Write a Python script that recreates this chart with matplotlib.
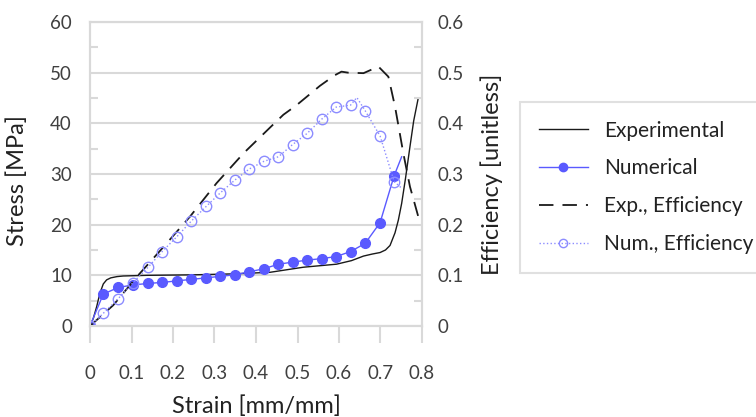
import matplotlib
matplotlib.use("Agg")
import matplotlib.pyplot as plt
from matplotlib.lines import Line2D
import numpy as np

plt.rcParams['font.family'] = ['Lato', 'DejaVu Sans']

# Experimental stress-strain
exp_strain = [0.0, 0.008, 0.016, 0.024, 0.032, 0.04, 0.05, 0.065, 0.08, 0.137, 0.25, 0.35, 0.434, 0.514, 0.594, 0.63, 0.659, 0.68, 0.699, 0.712, 0.723, 0.735, 0.743, 0.751, 0.76, 0.771, 0.78, 0.791]
exp_stress = [0.0, 1.5, 3.8, 6.5, 8.3, 9.1, 9.5, 9.75, 9.87, 10.0, 10.1, 10.3, 10.6, 11.6, 12.2, 12.9, 13.8, 14.2, 14.5, 15.0, 15.9, 18.4, 20.9, 24.2, 29.0, 35.4, 40.5, 45.0]

# Numerical stress-strain
num_strain = [0.0, 0.032, 0.068, 0.103, 0.14, 0.174, 0.209, 0.244, 0.28, 0.313, 0.349, 0.384, 0.419, 0.454, 0.488, 0.523, 0.558, 0.593, 0.628, 0.663, 0.699, 0.733, 0.751]
num_stress = [0.0, 6.3, 7.6, 8.1, 8.4, 8.6, 8.9, 9.2, 9.5, 9.8, 10.1, 10.7, 11.3, 12.2, 12.6, 13.0, 13.3, 13.7, 14.7, 16.3, 20.4, 29.7, 33.4]

# Experimental efficiency
expeff_strain = [0.0, 0.056, 0.116, 0.177, 0.241, 0.305, 0.37, 0.438, 0.466, 0.498, 0.554, 0.59, 0.606, 0.622, 0.659, 0.695, 0.719, 0.735, 0.755, 0.771, 0.791]
expeff_value = [0.0, 0.041, 0.1, 0.156, 0.216, 0.282, 0.341, 0.395, 0.417, 0.436, 0.474, 0.495, 0.502, 0.5, 0.499, 0.512, 0.492, 0.433, 0.341, 0.275, 0.216]

# Numerical efficiency
numeff_strain = [0.0, 0.032, 0.068, 0.103, 0.14, 0.174, 0.209, 0.244, 0.28, 0.313, 0.349, 0.384, 0.419, 0.454, 0.488, 0.523, 0.558, 0.593, 0.628, 0.643, 0.663, 0.699, 0.733, 0.751]
numeff_value = [0.0, 0.025, 0.054, 0.085, 0.116, 0.147, 0.176, 0.207, 0.236, 0.262, 0.288, 0.310, 0.325, 0.334, 0.358, 0.380, 0.408, 0.432, 0.436, 0.451, 0.425, 0.375, 0.285, 0.272]
numeff_marked = [0, 1, 2, 3, 4, 5, 6, 7, 8, 9, 10, 11, 12, 13, 14, 15, 16, 17, 18, 20, 21, 22]

x_ticks = [0, 0.1, 0.2, 0.3, 0.4, 0.5, 0.6, 0.7, 0.8]
x_tick_labels = ['0', '0.1', '0.2', '0.3', '0.4', '0.5', '0.6', '0.7', '0.8']
left_ticks = [0, 10, 20, 30, 40, 50, 60]
right_ticks = [0, 0.1, 0.2, 0.3, 0.4, 0.5, 0.6]
right_tick_labels = ['0', '0.1', '0.2', '0.3', '0.4', '0.5', '0.6']

BLUE = '#5a5aff'
LBLUE = '#8c8cff'
GRID = '#d9d9d9'
TXT = '#404040'
TICKFS = 13.5
LABFS = 17

fig = plt.figure(figsize=(7.56, 4.17), dpi=100)
ax = fig.add_axes([90/756, 1-326/417, 332/756, 304/417])
ax2 = ax.twinx()

ax.set_xlim(0, 0.8)
ax.set_ylim(0, 60)
ax2.set_ylim(0, 0.6)

for s in ['top', 'left', 'right', 'bottom']:
    ax.spines[s].set_color(GRID)
    ax.spines[s].set_linewidth(1.5)
    ax2.spines[s].set_color(GRID)
    ax2.spines[s].set_linewidth(1.5)

ax.set_yticks(left_ticks)
ax.set_yticklabels([str(v) for v in left_ticks])
ax.set_yticks([5, 15, 25, 35, 45, 55], minor=True)
ax.grid(axis='y', which='major', color=GRID, linewidth=1.5)
ax.set_axisbelow(True)
ax.tick_params(axis='y', which='major', length=0, pad=13, labelsize=TICKFS, labelcolor=TXT)
ax.tick_params(axis='y', which='minor', direction='in', length=6, color=GRID, width=1.5)
ax.set_xticks(x_ticks)
ax.set_xticklabels(x_tick_labels)
ax.tick_params(axis='x', which='major', direction='out', length=12, color=GRID, width=1.5,
               pad=16, labelsize=TICKFS, labelcolor=TXT)

ax2.set_yticks(right_ticks)
ax2.set_yticklabels(right_tick_labels)
ax2.set_yticks([0.05, 0.15, 0.25, 0.35, 0.45, 0.55], minor=True)
ax2.tick_params(axis='y', which='major', length=0, pad=11, labelsize=TICKFS, labelcolor=TXT)
ax2.tick_params(axis='y', which='minor', direction='in', length=6, color=GRID, width=1.5)

ax.plot(exp_strain, exp_stress, color='#1a1a1a', linewidth=1.0, zorder=3)
ax.plot(num_strain, num_stress, color=BLUE, linewidth=1.0, marker='o', markersize=7,
        markevery=list(range(len(num_strain) - 1)), zorder=4)
ax2.plot(expeff_strain, expeff_value, color='#1a1a1a', linewidth=1.3, dashes=(8, 5))
ax2.plot(numeff_strain, numeff_value, color=LBLUE, linewidth=1.0, linestyle=':',
         marker='o', markersize=7.5, markerfacecolor='none', markeredgecolor=LBLUE,
         markevery=numeff_marked)

ax.set_xlabel('Strain [mm/mm]', fontsize=LABFS, color='#222222', labelpad=10)
ax.set_ylabel('Stress [MPa]', fontsize=LABFS, color='#222222', labelpad=6)
ax.yaxis.set_label_coords(-0.188, 0.48)
ax2.set_ylabel('Efficiency [unitless]', fontsize=LABFS, color='#222222', labelpad=12)

handles = [
    Line2D([], [], color='#1a1a1a', linewidth=1.0),
    Line2D([], [], color=BLUE, linewidth=1.0, marker='o', markersize=6),
    Line2D([], [], color='#1a1a1a', linewidth=1.3, dashes=(8, 5)),
    Line2D([], [], color=LBLUE, linewidth=1.0, linestyle=':', marker='o', markersize=6,
           markerfacecolor='none', markeredgecolor=LBLUE),
]
labels = ['Experimental', 'Numerical', 'Exp., Efficiency', 'Num., Efficiency']
leg = fig.legend(handles, labels, loc='upper left', bbox_to_anchor=(520/756, 1-102/417),
                 frameon=True, fancybox=False, fontsize=15, handlelength=2.35,
                 labelspacing=0.85, borderpad=0.9, handletextpad=0.8, borderaxespad=0)
leg.get_frame().set_edgecolor(GRID)
leg.get_frame().set_linewidth(1.5)
for t in leg.get_texts():
    t.set_color('#222222')

fig.savefig('out.png', dpi=100)
